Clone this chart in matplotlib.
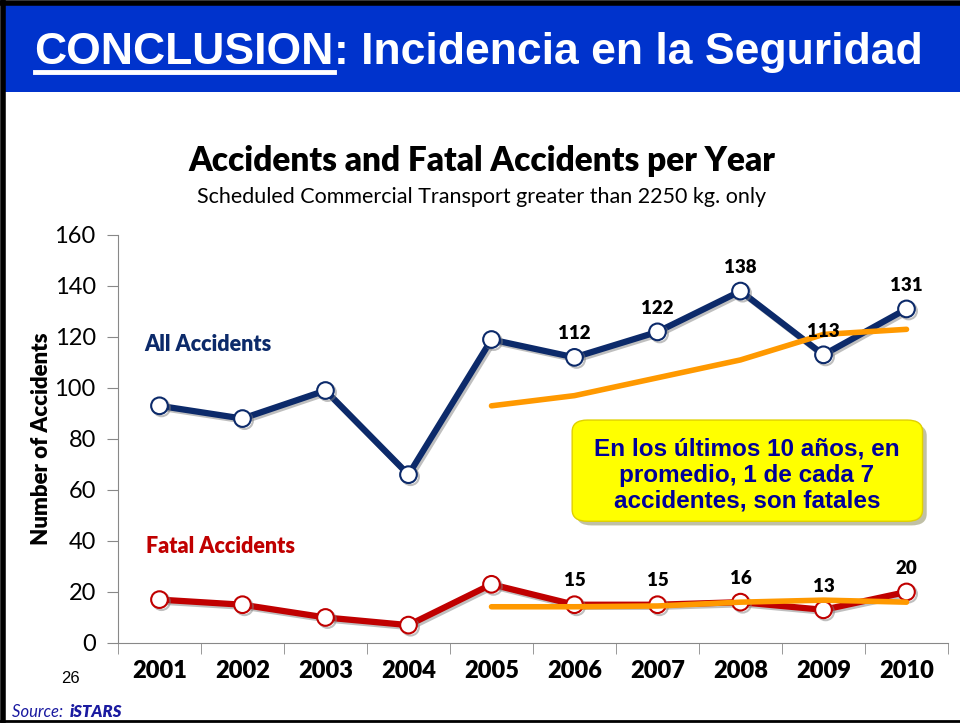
import matplotlib.pyplot as plt
from matplotlib.patches import FancyBboxPatch, Rectangle
import matplotlib.patheffects as pe

years = ['2001', '2002', '2003', '2004', '2005', '2006', '2007', '2008', '2009', '2010']
all_acc = [93, 88, 99, 66, 119, 112, 122, 138, 113, 131]
fatal_acc = [17, 15, 10, 7, 23, 15, 15, 16, 13, 20]

# trend lines (2005-2010)
trend_years = ['2005', '2006', '2007', '2008', '2009', '2010']
all_trend = [93, 97, 104, 111, 121, 123]
fatal_trend = [14.2, 14.2, 14.5, 16, 16.8, 16]

labeled_all = ['2006', '2007', '2008', '2009', '2010']
labeled_fatal = ['2006', '2007', '2008', '2009', '2010']

navy = '#0C2A6A'
red = '#C00000'
orange = '#FF9900'
font = 'Lato'

fig = plt.figure(figsize=(9.6, 7.23), dpi=100)

# blue banner
fig.patches.append(Rectangle((0.005, 0.873), 0.995, 0.12, transform=fig.transFigure,
                             facecolor='#0033CC', edgecolor='none', zorder=0))
# black border left/top/bottom
fig.add_artist(plt.Line2D([0.003, 0.003], [0.0, 1.0], color='black', lw=4, transform=fig.transFigure))
fig.add_artist(plt.Line2D([0.0, 1.0], [0.996, 0.996], color='black', lw=4, transform=fig.transFigure))
fig.add_artist(plt.Line2D([0.0, 1.0], [0.003, 0.003], color='black', lw=2, transform=fig.transFigure))

t1 = fig.text(0.036, 0.927, 'CONCLUSION', color='white', fontsize=32, fontweight='bold',
              family='Liberation Sans', va='center', ha='left')
fig.canvas.draw()
bb = t1.get_window_extent()
x1 = bb.x1 / fig.bbox.width
fig.text(x1, 0.927, ': Incidencia en la Seguridad', color='white', fontsize=32, fontweight='bold',
         family='Liberation Sans', va='center', ha='left')
fig.add_artist(plt.Line2D([0.036, x1], [0.900, 0.900], color='white', lw=3.5, transform=fig.transFigure))

fig.text(0.502, 0.778, 'Accidents and Fatal Accidents per Year', fontsize=24, fontweight='heavy',
         family=font, ha='center', va='center')
fig.text(0.502, 0.727, 'Scheduled Commercial Transport greater than 2250 kg. only', fontsize=15.5,
         family=font, ha='center', va='center')

ax = fig.add_axes([0.1229, 0.1107, 0.8646, 0.5643])
x = list(range(len(years)))
xi = {y: i for i, y in enumerate(years)}

shadow = [pe.SimpleLineShadow(offset=(1.5, -1.5), shadow_color='gray', alpha=0.5), pe.Normal()]
ax.plot(x, all_acc, color=navy, lw=4.5, marker='o', ms=12, mfc='white', mec=navy, mew=1.5,
        zorder=3, path_effects=shadow)
ax.plot(x, fatal_acc, color=red, lw=4.5, marker='o', ms=12, mfc='white', mec=red, mew=1.5,
        zorder=3, path_effects=shadow)
ax.plot([xi[y] for y in trend_years], all_trend, color=orange, lw=4, zorder=4, solid_capstyle='round')
ax.plot([xi[y] for y in trend_years], fatal_trend, color=orange, lw=4, zorder=4, solid_capstyle='round')

for y in labeled_all:
    ax.annotate(str(all_acc[xi[y]]), (xi[y], all_acc[xi[y]]), xytext=(0, 11), textcoords='offset points',
                ha='center', va='bottom', fontsize=13.5, fontweight='heavy', family=font, zorder=5)
for y in labeled_fatal:
    ax.annotate(str(fatal_acc[xi[y]]), (xi[y], fatal_acc[xi[y]]), xytext=(0, 11), textcoords='offset points',
                ha='center', va='bottom', fontsize=13.5, fontweight='heavy', family=font, zorder=5)

ax.text(-0.18, 117, 'All Accidents', color=navy, fontsize=15.5, fontweight='heavy', family=font, va='center')
ax.text(-0.16, 38, 'Fatal Accidents', color=red, fontsize=15.5, fontweight='heavy', family=font, va='center')

ax.set_xlim(-0.5, len(years) - 0.5)
ax.set_ylim(0, 160)
ax.set_yticks(range(0, 161, 20))
ax.set_xticks(x)
ax.set_xticklabels(years, fontsize=17, fontweight='heavy', family=font)
ax.set_xticks([i - 0.5 for i in range(len(years) + 1)], minor=True)
ax.tick_params(axis='x', which='major', length=0, pad=12)
ax.tick_params(axis='x', which='minor', length=8, color='#888888', direction='out')
ax.tick_params(axis='y', length=8, color='#888888', labelsize=17, pad=8)
for lab in ax.get_yticklabels():
    lab.set_family(font)
for s in ['top', 'right']:
    ax.spines[s].set_visible(False)
ax.spines['left'].set_color('#888888')
ax.spines['bottom'].set_color('#888888')
ax.set_ylabel('Number of Accidents', fontsize=16, fontweight='heavy', family=font, labelpad=2)

# yellow callout
box = FancyBboxPatch((0.596, 0.279), 0.365, 0.140, transform=fig.transFigure,
                     boxstyle='round,pad=0,rounding_size=0.016', facecolor='#FFFF00',
                     edgecolor='#E0D000', lw=1, zorder=5,
                     path_effects=[pe.SimplePatchShadow(offset=(3, -3), alpha=0.35), pe.Normal()])
fig.patches.append(box)
fig.text(0.778, 0.343, 'En los últimos 10 años, en\npromedio, 1 de cada 7\naccidentes, son fatales',
         color='#000099', fontsize=17.5, fontweight='bold', family='Liberation Sans',
         ha='center', va='center', linespacing=1.18, zorder=6)

fig.text(0.073, 0.062, '26', fontsize=12, family='Liberation Sans', ha='center', va='center')
fig.text(0.012, 0.015, 'Source: ', fontsize=12, style='italic', color='#1a1aa0', family=font, va='center')
fig.text(0.073, 0.015, 'iSTARS', fontsize=12, style='italic', fontweight='heavy', color='#1a1aa0',
         family=font, va='center')

fig.savefig('out.png', dpi=100)
